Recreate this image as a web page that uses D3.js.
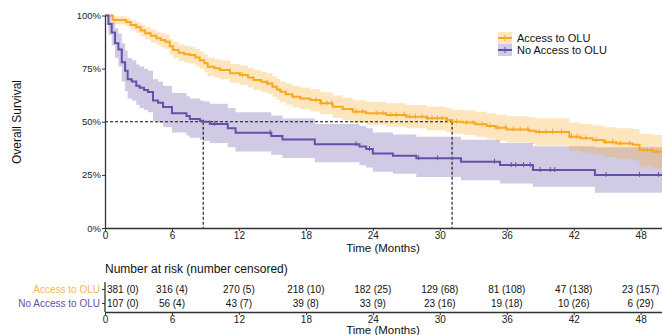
<!DOCTYPE html>
<html>
<head>
<meta charset="utf-8">
<script src="https://cdn.jsdelivr.net/npm/d3@7/dist/d3.min.js"></script>
<style>
  body { margin: 0; background: #fff; }
  text { font-family: "Liberation Sans", Arial, sans-serif; }
</style>
</head>
<body>
<svg id="chart" width="662" height="335"></svg>
<script>
// Access to OLU: KM step curve (time in months, survival in %) with 95% CI at each step
const accTimes = [0, 0.7, 1.9, 2.3, 2.8, 3.2, 3.6, 4.1, 4.6, 5.0, 5.4, 5.8, 6.1, 6.6, 7.1, 7.6, 8.1, 8.5, 8.9, 9.2,
  9.8, 10.3, 11.2, 12.1, 12.8, 13.3, 14.0, 14.5, 15.0, 15.4, 15.7, 16.2, 16.8, 17.5, 18.4, 19.3, 20.4, 21.3, 22.2, 23.4,
  25.2, 27.0, 28.8, 30.6, 31.1, 32.1, 33.2, 34.2, 35.0, 36.0, 38.0, 38.6, 41.6, 42.6, 43.7, 44.7, 45.8, 47.3, 47.9, 49.1];
const accSurv = [100, 97.9, 97.0, 95.5, 94.5, 93.0, 91.7, 90.5, 89.3, 88.5, 87.7, 85.5, 83.8, 82.5, 81.8, 81.4, 80.2, 79.0, 77.5, 75.9,
  75.2, 74.4, 72.8, 72.0, 70.8, 69.6, 68.8, 68.0, 66.5, 65.2, 64.1, 63.0, 61.8, 61.0, 60.2, 58.7, 57.1, 56.0, 54.7, 54.0,
  53.2, 52.4, 51.6, 50.8, 50.0, 49.6, 48.8, 48.0, 47.2, 46.4, 45.8, 45.2, 43.0, 42.2, 41.4, 40.4, 39.8, 39.2, 36.7, 35.9];
const accLower = [100, 95.8, 94.8, 93.0, 91.8, 90.2, 88.7, 87.3, 86.0, 85.1, 84.2, 81.8, 80.0, 78.6, 77.8, 77.4, 76.1, 74.8, 73.2, 71.5,
  70.8, 70.0, 68.3, 67.4, 66.1, 64.9, 64.0, 63.2, 61.6, 60.3, 59.1, 58.0, 56.7, 55.9, 55.0, 53.5, 51.8, 50.7, 49.4, 48.6,
  47.8, 46.9, 46.0, 45.1, 44.3, 43.8, 42.9, 42.0, 41.1, 40.2, 39.5, 38.8, 36.4, 35.5, 34.6, 33.4, 32.6, 31.8, 29.0, 28.0];
const accUpper = [100, 99.6, 98.9, 97.7, 96.9, 95.6, 94.5, 93.4, 92.4, 91.7, 91.0, 89.0, 87.5, 86.3, 85.6, 85.3, 84.2, 83.1, 81.7, 80.2,
  79.5, 78.8, 77.2, 76.5, 75.4, 74.3, 73.5, 72.8, 71.3, 70.1, 69.0, 68.0, 66.8, 66.1, 65.3, 63.9, 62.4, 61.3, 60.1, 59.4,
  58.7, 57.9, 57.2, 56.5, 55.7, 55.4, 54.7, 54.0, 53.3, 52.6, 52.1, 51.6, 49.6, 48.9, 48.2, 47.4, 47.0, 46.6, 44.4, 43.8];
const accCensor = [12.3, 14.6, 18.9, 19.4, 19.9, 20.3, 22.5, 23.1, 24.3, 24.9, 25.6, 26.1, 26.8, 27.3, 27.8, 28.4, 28.9,
  29.3, 29.8, 30.2, 30.7, 31.5, 32.4, 33.0, 33.8, 34.5, 35.2, 35.9, 36.6, 37.2, 37.9, 38.9, 39.5, 40.1, 40.9, 41.8, 42.3,
  43.1, 44.0, 44.9, 45.5, 46.2, 47.0, 48.2, 48.6, 49.0, 49.5];

// No Access to OLU
const noTimes = [0, 0.3, 0.6, 0.9, 1.2, 1.5, 1.8, 2.03, 2.4, 2.8, 3.1, 3.5, 3.85, 4.3, 4.75, 5.2, 6.0, 7.3, 7.6, 8.5,
  8.8, 9.4, 11.0, 11.7, 14.9, 15.9, 18.8, 22.8, 23.4, 24.0, 25.8, 27.9, 31.9, 35.4, 38.35, 43.9];
const noSurv = [100, 96, 92, 87, 84, 78, 74, 70, 69, 67, 66, 65, 64, 60, 59, 57, 54, 52.7, 51.3, 50.5,
  50, 49, 47, 44.8, 43.3, 41.7, 39.4, 38.3, 37.2, 35.1, 34, 32.8, 31.2, 29.6, 27.3, 25];
const noLower = [100, 91, 86, 80, 76, 69, 64.5, 61, 60, 58, 56.5, 55.5, 54.5, 50.5, 49.5, 47.5, 45, 43.5, 42.5, 41.5,
  41, 40, 38, 36, 34.5, 33, 31, 29.5, 28.5, 26.5, 25.5, 24, 22.5, 21, 19.4, 16.6];
const noUpper = [100, 100, 97, 94, 91.5, 87, 83.5, 80, 79, 77, 76, 75, 74, 70, 69, 67, 63.5, 62, 61, 60,
  59.5, 58.5, 56.5, 54.5, 53, 51.5, 49, 48, 47, 45, 44, 43, 41.5, 40, 38.5, 38];
const noCensor = [9.8, 14.8, 22.5, 23.7, 28.1, 29.8, 34.9, 36.4, 36.8, 37.5, 38.1, 39.0, 39.9, 40.3, 44.9, 47.9, 49.6];

// number at risk table
const riskTimes = [0, 6, 12, 18, 24, 30, 36, 42, 48];
const accAtRisk = [381, 316, 270, 218, 182, 129, 81, 47, 23];
const accCensored = [0, 4, 5, 10, 25, 68, 108, 138, 157];
const noAtRisk = [107, 56, 43, 39, 33, 23, 19, 10, 6];
const noCensored = [0, 4, 7, 8, 9, 16, 18, 26, 29];

const groups = ["Access to OLU", "No Access to OLU"];
const lineColors = ["#f8a823", "#6550a9"];
const xMax = 50;

const svg = d3.select("#chart");
const x = d3.scaleLinear().domain([0, xMax]).range([105, 663]);
const y = d3.scaleLinear().domain([0, 100]).range([228, 15.5]);

const series = [
  { name: groups[0], times: accTimes, surv: accSurv, lo: accLower, hi: accUpper, cens: accCensor, color: lineColors[0] },
  { name: groups[1], times: noTimes, surv: noSurv, lo: noLower, hi: noUpper, cens: noCensor, color: lineColors[1] }
];

function stepAt(times, vals, t) {
  let v = vals[0];
  for (let i = 0; i < times.length; i++) if (times[i] <= t) v = vals[i];
  return v;
}

// confidence bands (purple first so orange overlays it)
const area = d3.area().curve(d3.curveStepAfter)
  .x(d => x(d.t)).y0(d => y(d.lo)).y1(d => y(d.hi));
[series[1], series[0]].forEach(s => {
  const pts = s.times.map((t, i) => ({ t, lo: s.lo[i], hi: s.hi[i] }));
  pts.push({ t: xMax, lo: s.lo[s.lo.length - 1], hi: s.hi[s.hi.length - 1] });
  svg.append("path").datum(pts)
    .attr("fill", s.color).attr("fill-opacity", 0.3)
    .attr("d", area);
});

// median lines
const medians = series.map(s => s.times[s.surv.findIndex(v => v <= 50)]);
const dash = svg.append("g").attr("stroke", "#111").attr("stroke-width", 1.1).attr("stroke-dasharray", "3,2");
dash.append("line").attr("x1", x(0)).attr("x2", x(d3.max(medians))).attr("y1", y(50)).attr("y2", y(50));
medians.forEach(m => dash.append("line").attr("x1", x(m)).attr("x2", x(m)).attr("y1", y(50)).attr("y2", y(0)));

// survival curves + censor ticks
const line = d3.line().curve(d3.curveStepAfter).x(d => x(d.t)).y(d => y(d.s));
series.forEach(s => {
  const pts = s.times.map((t, i) => ({ t, s: s.surv[i] }));
  pts.push({ t: xMax, s: s.surv[s.surv.length - 1] });
  svg.append("path").datum(pts)
    .attr("fill", "none").attr("stroke", s.color).attr("stroke-width", 2)
    .attr("d", line);
  svg.append("g").selectAll("line").data(s.cens).join("line")
    .attr("x1", d => x(d)).attr("x2", d => x(d))
    .attr("y1", d => y(stepAt(s.times, s.surv, d)) - 3)
    .attr("y2", d => y(stepAt(s.times, s.surv, d)) + 2)
    .attr("stroke", s.color).attr("stroke-width", 1);
});

// axes
const xTicks = d3.range(0, 49, 6);
function styleAxis(g) {
  g.selectAll("path").attr("stroke", "#333").attr("stroke-width", 1.3);
  g.selectAll(".tick line").attr("stroke", "#333");
  g.selectAll("text").attr("fill", "#222").style("font-family", "Liberation Sans, Arial, sans-serif");
}
svg.append("g").attr("transform", `translate(0,${y(0)})`)
  .call(d3.axisBottom(x).tickValues(xTicks).tickSize(3).tickSizeOuter(0).tickPadding(1))
  .call(styleAxis).selectAll("text").attr("font-size", 10);
svg.append("g").attr("transform", `translate(${x(0)},0)`)
  .call(d3.axisLeft(y).tickValues([0, 25, 50, 75, 100]).tickFormat(d => d + "%").tickSize(3).tickSizeOuter(0).tickPadding(1))
  .call(styleAxis).selectAll("text").attr("font-size", 9.5);

svg.append("text").attr("x", x(xMax / 2) - 1).attr("y", 252).attr("text-anchor", "middle")
  .attr("font-size", 11.5).attr("fill", "#111").text("Time (Months)");
svg.append("text").attr("transform", "translate(21,122) rotate(-90)").attr("text-anchor", "middle")
  .attr("font-size", 12).attr("fill", "#111").text("Overall Survival");

// legend
const leg = svg.append("g").attr("transform", "translate(498,32)");
series.forEach((s, i) => {
  const g = leg.append("g").attr("transform", `translate(0,${i * 12})`);
  g.append("rect").attr("x", 0).attr("y", 0).attr("width", 14).attr("height", 12)
    .attr("fill", s.color).attr("fill-opacity", 0.3);
  g.append("line").attr("x1", 0).attr("x2", 14).attr("y1", 6).attr("y2", 6)
    .attr("stroke", s.color).attr("stroke-width", 2);
  g.append("line").attr("x1", 7).attr("x2", 7).attr("y1", 3).attr("y2", 9)
    .attr("stroke", s.color).attr("stroke-width", 1);
  g.append("text").attr("x", 19).attr("y", 10).attr("font-size", 11).attr("fill", "#111").text(s.name);
});

// risk table
svg.append("text").attr("x", 105).attr("y", 273).attr("font-size", 12).attr("fill", "#111")
  .text("Number at risk (number censored)");
const rowY = [289, 303];
const rows = [
  { atRisk: accAtRisk, cens: accCensored },
  { atRisk: noAtRisk, cens: noCensored }
];
rows.forEach((r, i) => {
  svg.append("text").attr("x", 100).attr("y", rowY[i] + 3.5).attr("text-anchor", "end")
    .attr("font-size", 10).attr("fill", lineColors[i]).attr("fill-opacity", i === 0 ? 0.85 : 1).text(groups[i]);
  svg.append("g").selectAll("text").data(riskTimes).join("text")
    .attr("x", d => d === 0 ? x(0) + 2 : x(d))
    .attr("y", rowY[i] + 3.5)
    .attr("text-anchor", d => d === 0 ? "start" : "middle")
    .attr("font-size", 10).attr("fill", "#111")
    .text((d, j) => `${r.atRisk[j]} (${r.cens[j]})`);
});
const ry = d3.scalePoint().domain(groups).range(rowY);
svg.append("g").attr("transform", `translate(${x(0)},0)`)
  .call(d3.axisLeft(ry).tickSize(3).tickSizeOuter(0).tickFormat(""))
  .call(g => g.select("path").attr("d", "M0,282V312"))
  .call(styleAxis);
svg.append("g").attr("transform", "translate(0,312)")
  .call(d3.axisBottom(x).tickValues(xTicks).tickSize(3).tickSizeOuter(0).tickPadding(1))
  .call(styleAxis).selectAll("text").attr("font-size", 10);
svg.append("text").attr("x", x(xMax / 2) - 1).attr("y", 334).attr("text-anchor", "middle")
  .attr("font-size", 11.5).attr("fill", "#111").text("Time (Months)");
</script>
</body>
</html>
